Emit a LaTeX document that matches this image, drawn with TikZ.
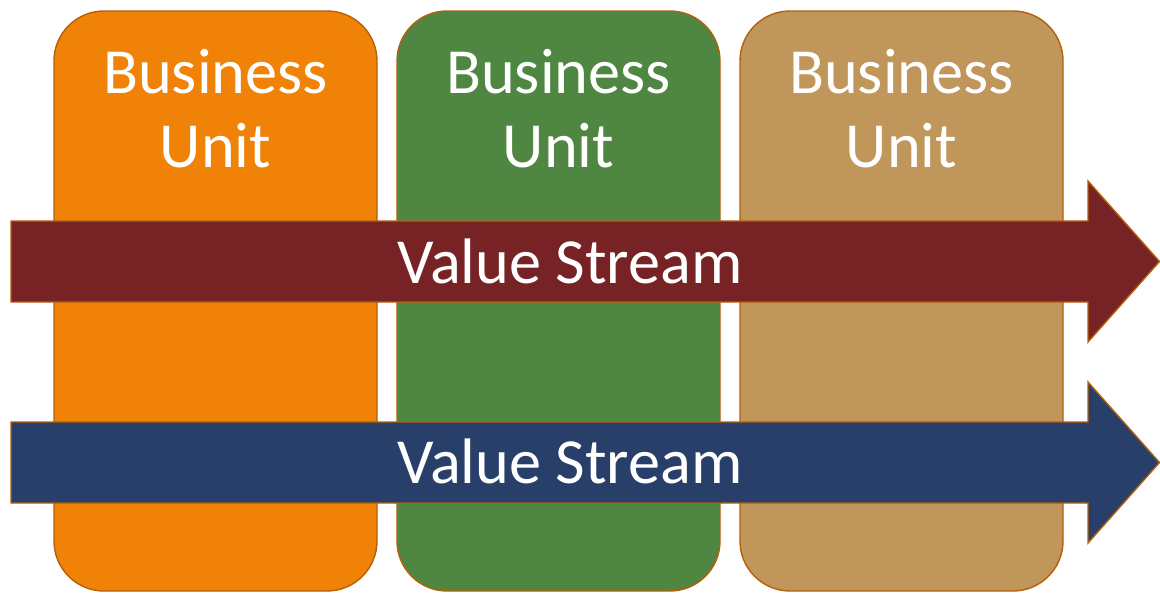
\documentclass[tikz,border=0pt]{standalone}
\usepackage{fontspec}
\setmainfont{Carlito}
\definecolor{unitorange}{HTML}{F08208}
\definecolor{unitgreen}{HTML}{4F8742}
\definecolor{unittan}{HTML}{C0965A}
\definecolor{streamred}{HTML}{772325}
\definecolor{streamblue}{HTML}{283F6A}
\definecolor{edge}{HTML}{B5600B}
\tikzset{
    unit/.style={draw=edge,line width=0.8pt,rounded corners=1cm},
    stream/.style={draw=edge,line width=0.8pt,line join=miter},
    label/.style={text=white,font=\fontsize{36.6}{42}\selectfont,align=center,inner sep=0pt,anchor=base}
}
\def\uw{323}
\def\ugap{343}

\begin{document}
\begin{tikzpicture}[x=0.02cm,y=-0.02cm]
  \useasboundingbox (0,0) rectangle (1160,592);

  % Business units
  \foreach \c [count=\i from 0] in {unitorange,unitgreen,unittan} {
    \draw[unit,fill=\c] (54+\i*\ugap,11) rectangle (54+\i*\ugap+\uw,591);
    \node[label] (unit\i) at (215.5+\i*\ugap,167) {Business\\Unit};
  }

  % Value streams
  \foreach \c [count=\i from 0] in {streamred,streamblue} {
    \draw[stream,fill=\c] (11,221+\i*201) -- (1088,221+\i*201) -- (1088,181+\i*201)
      -- (1159.5,261.5+\i*201) -- (1088,342+\i*201) -- (1088,302+\i*201) -- (11,302+\i*201) -- cycle;
    \node[label] (stream\i) at (570,283+\i*200) {Value Stream};
  }
\end{tikzpicture}
\end{document}
